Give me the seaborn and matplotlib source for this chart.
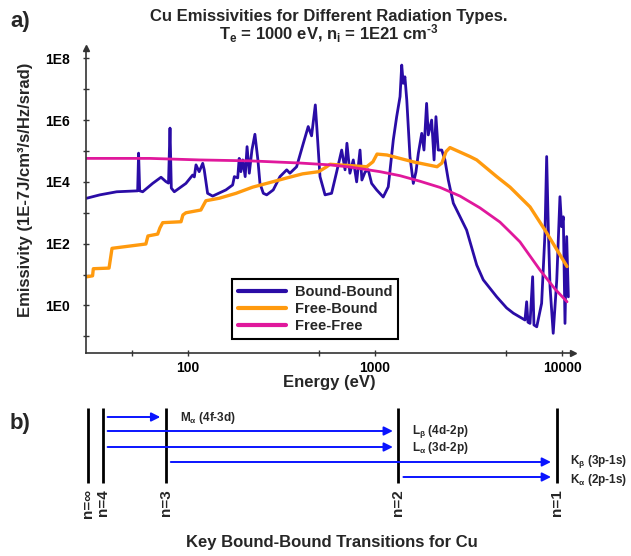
import numpy as np
import pandas as pd
import matplotlib
matplotlib.use("Agg")
import matplotlib.pyplot as plt
import seaborn as sns
from matplotlib.ticker import FixedLocator, FixedFormatter, NullFormatter
from matplotlib.lines import Line2D

# ---------------- data (log10 units) ----------------
bb_log_energy = [1.458, 1.529, 1.619, 1.731, 1.736, 1.742, 1.758, 1.811, 1.856, 1.882,
                 1.896, 1.904, 1.911, 1.927, 1.989, 2.025, 2.034, 2.043, 2.060, 2.079,
                 2.087, 2.105, 2.132, 2.203, 2.239, 2.248, 2.266, 2.274, 2.283, 2.293,
                 2.306, 2.316, 2.328, 2.342, 2.358, 2.374, 2.385, 2.403, 2.421, 2.456,
                 2.492, 2.528, 2.545, 2.581, 2.617, 2.643, 2.661, 2.681, 2.690, 2.706,
                 2.733, 2.768, 2.795, 2.822, 2.840, 2.850, 2.866, 2.884, 2.902, 2.920,
                 2.930, 2.947, 2.964, 2.982, 3.009, 3.044, 3.071, 3.098, 3.116, 3.134,
                 3.143, 3.151, 3.160, 3.170, 3.187, 3.205, 3.219, 3.232, 3.250, 3.262,
                 3.276, 3.285, 3.303, 3.316, 3.326, 3.338, 3.357, 3.374, 3.392, 3.419,
                 3.455, 3.490, 3.544, 3.579, 3.651, 3.704, 3.740, 3.802, 3.811, 3.818,
                 3.829, 3.843, 3.850, 3.865, 3.891, 3.909, 3.918, 3.927, 3.936, 3.953,
                 3.972, 3.989, 3.998, 4.007, 4.016, 4.025, 4.034]
bb_log_emis = [3.47, 3.58, 3.68, 3.71, 4.93, 3.71, 3.68, 3.95, 4.15, 4.01,
               3.96, 5.74, 3.80, 3.68, 3.95, 4.22, 4.16, 4.55, 4.33, 4.60,
               4.39, 3.63, 3.54, 3.74, 3.90, 4.17, 4.13, 4.76, 4.33, 4.71,
               4.17, 5.14, 4.28, 5.03, 5.54, 4.71, 3.95, 3.63, 3.58, 3.74,
               4.17, 4.39, 4.28, 4.49, 5.25, 5.79, 5.49, 6.49, 5.68, 4.17,
               3.58, 3.63, 4.32, 5.03, 4.39, 5.25, 4.28, 4.71, 4.00, 5.03,
               4.06, 4.32, 4.39, 3.95, 3.74, 3.51, 3.84, 5.36, 6.11, 6.76,
               7.78, 7.19, 7.40, 6.65, 4.82, 3.95, 4.32, 4.93, 5.57, 5.03,
               6.54, 5.52, 6.00, 4.71, 6.11, 5.03, 5.03, 4.71, 4.06, 3.31,
               2.87, 2.44, 1.31, 0.83, 0.28, -0.08, -0.25, -0.47, 0.12, -0.54,
               -0.58, 0.93, -0.63, -0.69, 0.07, 2.34, 4.82, 2.44, 0.61, -0.90,
               0.83, 3.52, 2.55, 2.87, -0.58, 2.23, 0.28]

fb_log_energy = [1.460, 1.490, 1.494, 1.578, 1.594, 1.775, 1.786, 1.838, 1.850, 1.865,
                 1.963, 1.973, 1.989, 2.069, 2.086, 2.096, 2.167, 2.257, 2.346, 2.433,
                 2.524, 2.613, 2.699, 2.742, 2.759, 2.956, 2.989, 3.011, 3.064, 3.203,
                 3.332, 3.358, 3.380, 3.401, 3.508, 3.544, 3.651, 3.722, 3.829, 3.909,
                 4.027]
fb_log_emis = [0.93, 0.96, 1.19, 1.21, 1.85, 1.99, 2.25, 2.31, 2.51, 2.68,
               2.71, 2.93, 3.00, 3.09, 3.28, 3.39, 3.47, 3.63, 3.83, 3.97,
               4.12, 4.26, 4.33, 4.49, 4.57, 4.49, 4.65, 4.90, 4.87, 4.65,
               4.49, 4.61, 4.98, 5.11, 4.82, 4.71, 4.17, 3.83, 3.19, 2.44,
               1.26]

ff_log_energy = [1.455, 1.797, 2.064, 2.332, 2.599, 2.759, 2.866, 3.027, 3.134, 3.241,
                 3.348, 3.455, 3.561, 3.668, 3.722, 3.775, 3.882, 3.963, 4.027]
ff_log_emis = [4.76, 4.76, 4.71, 4.68, 4.61, 4.55, 4.48, 4.33, 4.20, 4.02,
               3.82, 3.54, 3.16, 2.70, 2.38, 2.06, 1.15, 0.53, 0.12]

series_names = ["Bound-Bound", "Free-Bound", "Free-Free"]

y_major = [1e0, 1e2, 1e4, 1e6, 1e8]
y_major_labels = ["1E0", "1E2", "1E4", "1E6", "1E8"]
y_minor = [1e-1, 1e1, 1e3, 1e5, 1e7]
x_major = [100, 1000, 10000]
x_major_labels = ["100", "1000", "10000"]
x_minor = [50, 500, 5000]

levels = ["n=∞", "n=4", "n=3", "n=2", "n=1"]
transitions = [("n=4", "n=3", r"M$_{α}$ (4f-3d)"),
               ("n=4", "n=2", r"L$_{β}$ (4d-2p)"),
               ("n=4", "n=2", r"L$_{α}$ (3d-2p)"),
               ("n=3", "n=1", r"K$_{β}$ (3p-1s)"),
               ("n=2", "n=1", r"K$_{α}$ (2p-1s)")]

# ---------------- styling ----------------
sns.set_theme(style="white")
plt.rcParams["font.family"] = ["Liberation Sans", "DejaVu Sans"]
plt.rcParams["font.weight"] = "bold"
plt.rcParams["mathtext.fontset"] = "custom"
plt.rcParams["mathtext.bf"] = "Liberation Sans:bold"
plt.rcParams["mathtext.rm"] = "Liberation Sans:bold"
plt.rcParams["mathtext.it"] = "Liberation Sans:bold"
plt.rcParams["mathtext.default"] = "bf"

palette = {"Bound-Bound": "#2a0ca6", "Free-Bound": "#ff9a0e", "Free-Free": "#e0189c"}
widths = {"Bound-Bound": 2.0, "Free-Bound": 2.4, "Free-Free": 2.0}
spine_color = "#333333"

W, H = 631, 556
fig = plt.figure(figsize=(W / 100, H / 100), dpi=100)

# panel a axes (pixel layout)
ax_l, ax_r, ax_t, ax_b_px = 86, 573, 48, 353
ax = fig.add_axes([ax_l / W, 1 - ax_b_px / H, (ax_r - ax_l) / W, (ax_b_px - ax_t) / H])

frames = []
for name, le, lv in [("Bound-Bound", bb_log_energy, bb_log_emis),
                     ("Free-Bound", fb_log_energy, fb_log_emis),
                     ("Free-Free", ff_log_energy, ff_log_emis)]:
    frames.append(pd.DataFrame({"Energy": 10 ** np.array(le),
                                "Emissivity": 10 ** np.array(lv),
                                "Type": name}))
df = pd.concat(frames, ignore_index=True)

for name in series_names:
    sub = df[df["Type"] == name]
    sns.lineplot(data=sub, x="Energy", y="Emissivity", color=palette[name],
                 linewidth=widths[name], estimator=None, sort=False, ax=ax,
                 legend=False)

ax.set_xscale("log")
ax.set_yscale("log")
ax.set_xlim(28.5, 11450)
ax.set_ylim(0.029, 2.15e8)

ax.yaxis.set_major_locator(FixedLocator(y_major))
ax.yaxis.set_major_formatter(FixedFormatter(y_major_labels))
ax.yaxis.set_minor_locator(FixedLocator(y_minor))
ax.yaxis.set_minor_formatter(NullFormatter())
ax.xaxis.set_major_locator(FixedLocator(x_major))
ax.xaxis.set_major_formatter(FixedFormatter(x_major_labels))
ax.xaxis.set_minor_locator(FixedLocator(x_minor))
ax.xaxis.set_minor_formatter(NullFormatter())

for s in ["top", "right"]:
    ax.spines[s].set_visible(False)
for s in ["left", "bottom"]:
    ax.spines[s].set_color(spine_color)
    ax.spines[s].set_linewidth(1.2)

ax.tick_params(axis="both", which="both", direction="inout", length=4.3, width=1,
               color=spine_color, labelsize=10, labelcolor="black")
ax.tick_params(axis="y", which="both", pad=9.5, left=True)
ax.tick_params(axis="x", which="both", pad=3.5, bottom=True)
for lab in ax.get_xticklabels() + ax.get_yticklabels():
    lab.set_fontweight("bold")

# axis arrowheads
ax.plot([1], [0], marker=">", ms=5, color=spine_color, transform=ax.transAxes, clip_on=False)
ax.plot([0], [1], marker="^", ms=5, color=spine_color, transform=ax.transAxes, clip_on=False)

ax.set_xlabel("Energy (eV)", fontsize=12, fontweight="bold")
ax.set_ylabel("Emissivity (1E-7J/cm³/s/Hz/srad)", fontsize=12, fontweight="bold")
ax.xaxis.set_label_coords(0.5, (ax_b_px - 383) / (ax_b_px - ax_t))
ax.xaxis.label.set_va("center")
ax.yaxis.set_label_coords((25 - ax_l) / (ax_r - ax_l), (ax_b_px - 190) / (ax_b_px - ax_t))
ax.yaxis.label.set_va("center")

handles = [Line2D([0], [0], color=palette[n], lw=3) for n in series_names]
leg = ax.legend(handles, series_names, loc="upper left",
                bbox_to_anchor=(232 / W, 1 - 279 / H), bbox_transform=fig.transFigure,
                borderaxespad=0, frameon=True, fancybox=False, framealpha=1,
                edgecolor="black", prop={"size": 10.5, "weight": "bold"},
                handlelength=3.3, handletextpad=0.6, labelspacing=0.22,
                borderpad=0.4)
leg.get_frame().set_linewidth(1.5)

# titles
fig.text(10 / W, 1 - 22 / H, "a)", fontsize=16, fontweight="bold", ha="left", va="center")
fig.text(329 / W, 1 - 16 / H, "Cu Emissivities for Different Radiation Types.",
         fontsize=12, fontweight="bold", ha="center", va="center")
fig.text(329 / W, 1 - 34 / H, "T$_{e}$ = 1000 eV, n$_{i}$ = 1E21 cm$^{\u2010 3}$",
         fontsize=12, fontweight="bold", ha="center", va="center")

# ---------------- panel b: transition diagram ----------------
axb = fig.add_axes([0, 0, 1, 1 - 390 / H])
axb.set_xlim(0, W)
axb.set_ylim(H, 390)
axb.axis("off")

level_x = {"n=∞": 87.7, "n=4": 102.6, "n=3": 165.8, "n=2": 398.4, "n=1": 556.5}
line_top, line_bot = 408, 483
row_y = [417, 431, 447, 462, 477]
label_dy = [3.5, 3.0, 4.0, 2.0, 5.5]
arrow_color = "#0a14ff"

for lv in levels:
    axb.plot([level_x[lv], level_x[lv]], [line_top, line_bot], color="black", lw=2.0,
             solid_capstyle="butt")
    axb.text(level_x[lv], line_bot + 6, lv, rotation=90, ha="center", va="top",
             fontsize=11, fontweight="bold")

for (src, dst, label), y, dy in zip(transitions, row_y, label_dy):
    x0 = level_x[src] + 5
    x1 = level_x[dst] - 5.5
    axb.annotate("", xy=(x1, y), xytext=(x0, y),
                 arrowprops=dict(arrowstyle="-|>", color=arrow_color, lw=1.4,
                                 mutation_scale=13, shrinkA=0, shrinkB=0))
    axb.text(level_x[dst] + 14, y + dy, label, ha="left", va="baseline",
             fontsize=8.5, fontweight="bold")

axb.text(10, 424, "b)", fontsize=16, fontweight="bold", ha="left", va="center")
axb.text(332, 543, "Key Bound-Bound Transitions for Cu", fontsize=12,
         fontweight="bold", ha="center", va="center")

fig.savefig("out.png", dpi=100)
